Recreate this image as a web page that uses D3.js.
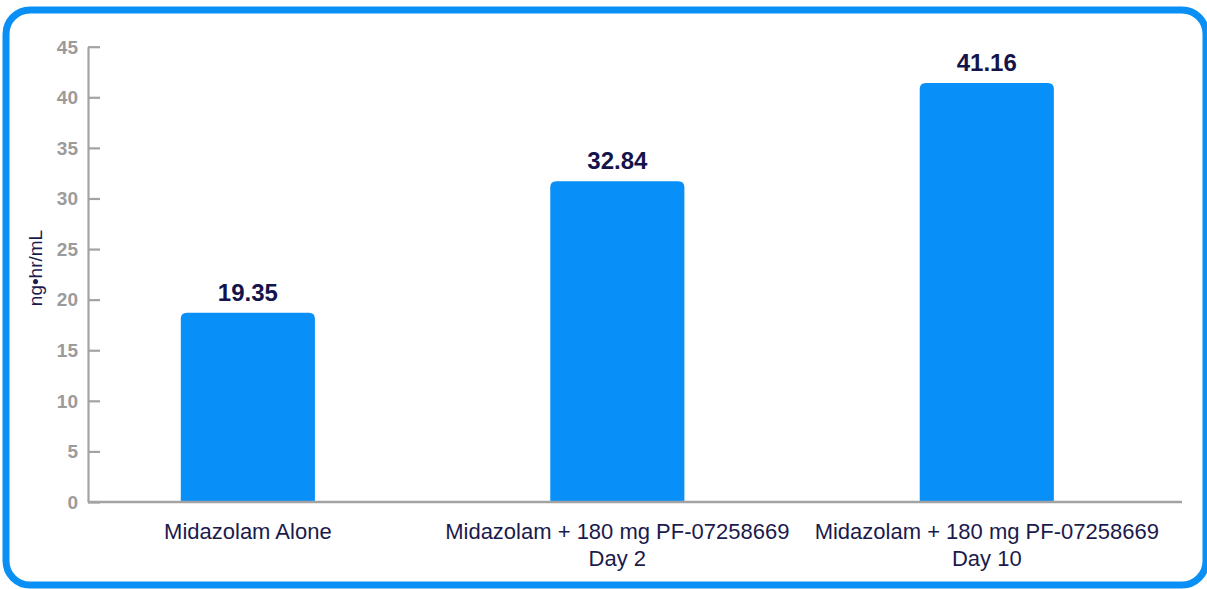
<!DOCTYPE html>
<html lang="en">
<head>
    <meta charset="UTF-8">
    <title>Midazolam AUC</title>
    <script src="https://cdn.jsdelivr.net/npm/d3@7"></script>
    <style>
        body { margin: 0; background: #fff; }
        text { font-family: Arial, "Liberation Sans", sans-serif; }
    </style>
</head>
<body>
    <svg id="svg" width="1207" height="589"></svg>
    <script>
        // bar heights as drawn, and the value labels printed above them
        const categories = [
            ["Midazolam Alone"],
            ["Midazolam + 180 mg PF-07258669", "Day 2"],
            ["Midazolam + 180 mg PF-07258669", "Day 10"]
        ]
        const barValues = [18.7, 31.7, 41.4]
        const valueLabels = ["19.35", "32.84", "41.16"]
        const yTicks = [0, 5, 10, 15, 20, 25, 30, 35, 40, 45]
        const yTitle = "ng\u2022hr/mL"

        const svg = d3.select("#svg")
        const barColor = "#0890f8"
        const axisColor = "#a3a3a3"
        const navy = "#1b1a4c"

        // rounded frame
        svg.append("rect")
            .attr("x", 6).attr("y", 10)
            .attr("width", 1200).attr("height", 575)
            .attr("rx", 24)
            .attr("fill", "#fff")
            .attr("stroke", "#0a8ff5")
            .attr("stroke-width", 7)

        const x0 = 88, x1 = 1182
        const keys = categories.map(d => d.join(" "))

        const xScale = d3.scaleBand()
            .domain(keys)
            .range([x0, x1])
            .paddingInner(0.637)
            .paddingOuter(0.299)
            .align(0.42)

        const yScale = d3.scaleLinear()
            .domain([0, 45])
            .range([502, 46.7])

        // y axis, ticks pointing inward
        const yAxis = d3.axisRight(yScale)
            .tickValues(yTicks)
            .tickSize(12)
            .tickSizeOuter(0)
            .tickFormat("")
        const yg = svg.append("g").attr("transform", `translate(${x0},0)`).call(yAxis)
        yg.select(".domain").attr("stroke", axisColor).attr("stroke-width", 2.2)
        yg.selectAll(".tick line").attr("stroke", axisColor).attr("stroke-width", 2.2)

        svg.append("g").selectAll("text").data(yTicks).join("text")
            .attr("x", 78)
            .attr("y", d => yScale(d))
            .attr("dy", "0.36em")
            .attr("text-anchor", "end")
            .attr("font-size", 19)
            .attr("font-weight", "bold")
            .attr("fill", "#9b9b9b")
            .text(d => d)

        // bars: rounded top, square bottom
        const r = 6
        svg.append("g").selectAll("path").data(barValues).join("path")
            .attr("fill", barColor)
            .attr("d", (d, i) => {
                const x = xScale(keys[i]), w = xScale.bandwidth()
                const yt = yScale(d), yb = yScale(0)
                return `M${x},${yb} V${yt + r} Q${x},${yt} ${x + r},${yt} H${x + w - r} Q${x + w},${yt} ${x + w},${yt + r} V${yb} Z`
            })

        // x axis line
        svg.append("line")
            .attr("x1", x0).attr("x2", x1)
            .attr("y1", yScale(0)).attr("y2", yScale(0))
            .attr("stroke", axisColor)
            .attr("stroke-width", 2.5)

        // value labels
        svg.append("g").selectAll("text").data(barValues).join("text")
            .attr("x", (d, i) => xScale(keys[i]) + xScale.bandwidth() / 2)
            .attr("y", d => yScale(d) - 12)
            .attr("text-anchor", "middle")
            .attr("font-size", 24)
            .attr("font-weight", "bold")
            .attr("fill", "#15144a")
            .text((d, i) => valueLabels[i])

        // category labels
        const xl = svg.append("g").selectAll("text").data(categories).join("text")
            .attr("x", (d, i) => xScale(keys[i]) + xScale.bandwidth() / 2)
            .attr("y", 539)
            .attr("text-anchor", "middle")
            .attr("font-size", 22)
            .attr("fill", navy)
        xl.selectAll("tspan").data(d => d).join("tspan")
            .attr("x", function () { return d3.select(this.parentNode).attr("x") })
            .attr("dy", (d, j) => j === 0 ? 0 : 27)
            .text(d => d)

        // y title
        svg.append("text")
            .attr("transform", "translate(42,268) rotate(-90)")
            .attr("text-anchor", "middle")
            .attr("font-size", 19)
            .attr("fill", navy)
            .text(yTitle)
    </script>
</body>
</html>
